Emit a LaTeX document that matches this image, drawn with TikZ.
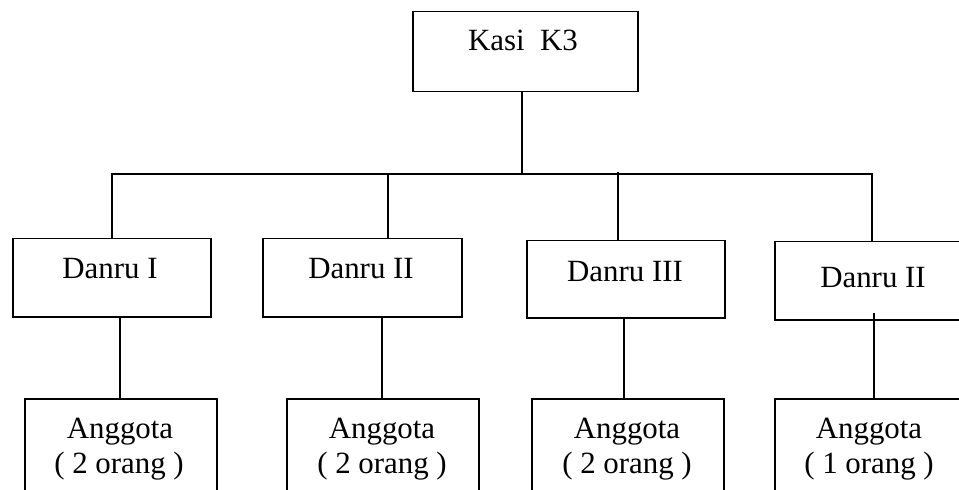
\documentclass[tikz,border=0pt]{standalone}
\usepackage{fontspec}
\setmainfont{Liberation Serif}
\begin{document}
\begin{tikzpicture}[x=1bp, y=-1bp,
  box/.style={draw, line width=1.5bp, inner sep=0pt, anchor=north west},
  lbl/.style={anchor=base, inner sep=0pt, font=\fontsize{31}{36}\selectfont},
  link/.style={line width=1.5bp}]
\useasboundingbox (0,0) rectangle (959,490);
\clip (0,0) rectangle (959,490);

% boxes (north-west corner, width x height)
\node[box, minimum width=225bp, minimum height=80bp] (kasi) at (412,11) {};
\node[box, minimum width=198bp, minimum height=78bp] (d1) at (12,238) {};
\node[box, minimum width=199bp, minimum height=78bp] (d2) at (262,238) {};
\node[box, minimum width=198bp, minimum height=77bp] (d3) at (526,240) {};
\node[box, minimum width=210bp, minimum height=78bp] (d4) at (774,241) {};
\node[box, minimum width=192bp, minimum height=120bp] (a1) at (24,398) {};
\node[box, minimum width=192bp, minimum height=120bp] (a2) at (286,398) {};
\node[box, minimum width=192bp, minimum height=120bp] (a3) at (531,398) {};
\node[box, minimum width=200bp, minimum height=120bp] (a4) at (774,398) {};

% texts
\node[lbl] (tkasi) at (523,51) {Kasi\ \ K3};
\node[lbl] (td1) at (110,279) {Danru I};
\node[lbl] (td2) at (361,279) {Danru II};
\node[lbl] (td3) at (625,282) {Danru III};
\node[lbl] (td4) at (873,288) {Danru II};
\node[lbl] (ta1) at (120,438) {Anggota};
\node[lbl] (tb1) at (119,473) {( 2 orang )};
\node[lbl] (ta2) at (382,438) {Anggota};
\node[lbl] (tb2) at (382,473) {( 2 orang )};
\node[lbl] (ta3) at (627,438) {Anggota};
\node[lbl] (tb3) at (627,473) {( 2 orang )};
\node[lbl] (ta4) at (869,438) {Anggota};
\node[lbl] (tb4) at (869,473) {( 1 orang )};

% bus points
\coordinate (top) at (522,174);
\coordinate (b1) at (112,174);
\coordinate (b2) at (388,174);
\coordinate (b3) at (618,172);
\coordinate (b4) at (872,174);
\coordinate (c1) at (120,0);
\coordinate (c2) at (382,0);
\coordinate (c3) at (624,0);
\coordinate (c4) at (874,313);

% connectors
\draw[link] (kasi.south -| top) -- (top);
\draw[link] (b1 |- d1.north) -- (b1) -- (b4) -- (b4 |- d4.north);
\draw[link] (b2) -- (b2 |- d2.north);
\draw[link] (b3) -- (b3 |- d3.north);
\draw[link] (c1 |- d1.south) -- (c1 |- a1.north);
\draw[link] (c2 |- d2.south) -- (c2 |- a2.north);
\draw[link] (c3 |- d3.south) -- (c3 |- a3.north);
\draw[link] (c4) -- (c4 |- a4.north);
\end{tikzpicture}
\end{document}
